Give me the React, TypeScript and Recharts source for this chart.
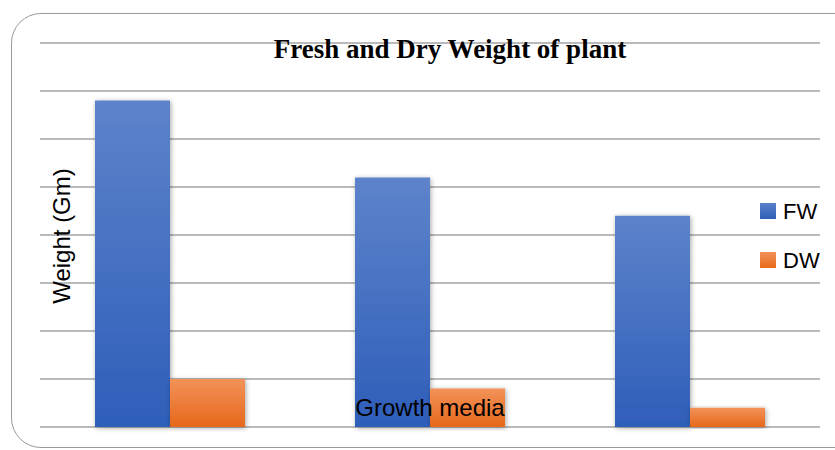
import React from 'react';
import { BarChart, Bar, XAxis, YAxis, CartesianGrid, Legend, Rectangle } from 'recharts';

const categories = ['Medium 1', 'Medium 2', 'Medium 3'];
const fwValues = [6.8, 5.2, 4.4];
const dwValues = [1.0, 0.8, 0.4];
const yTicks = [0, 1, 2, 3, 4, 5, 6, 7, 8];
const seriesNames = ['FW', 'DW'];

const data = categories.map((c, i) => ({ name: c, fw: fwValues[i], dw: dwValues[i] }));

const SANS = '"Liberation Sans", Arial, sans-serif';

const ShadowBar = (props: any) => <Rectangle {...props} filter="url(#barShadow)" />;

const renderLegend = (props: any) => {
  const payload = (props.payload || []).slice();
  payload.sort((a: any, b: any) => seriesNames.indexOf(a.value) - seriesNames.indexOf(b.value));
  return (
    <svg width={80} height={80} style={{ display: 'block' }}>
      <defs>
        <linearGradient id="legFW" x1="0" y1="0" x2="0" y2="1">
          <stop offset="0%" stopColor="#5B80CA" />
          <stop offset="100%" stopColor="#2F5FB9" />
        </linearGradient>
        <linearGradient id="legDW" x1="0" y1="0" x2="0" y2="1">
          <stop offset="0%" stopColor="#F29259" />
          <stop offset="100%" stopColor="#E7691B" />
        </linearGradient>
      </defs>
      {payload.map((p: any, i: number) => (
        <g key={p.value} transform={`translate(0, ${i * 49})`}>
          <rect x={5} y={8} width={16} height={16} fill={p.value === 'FW' ? 'url(#legFW)' : 'url(#legDW)'} />
          <text x={28} y={24} fontFamily={SANS} fontSize={22} fill="#000">{p.value}</text>
        </g>
      ))}
    </svg>
  );
};

const NoTick = () => <g />;

export default function App() {
  return (
    <div style={{ position: 'absolute', left: 0, top: 0, width: 835, height: 450, overflow: 'hidden', background: '#fff' }}>
      <div
        style={{
          position: 'absolute',
          left: 11,
          top: 13,
          width: 860,
          height: 435,
          border: '1.5px solid #9a9a9a',
          borderRadius: 30,
          boxSizing: 'border-box',
        }}
      />
      <div style={{ position: 'absolute', left: 0, top: 0 }}>
        <BarChart
          width={835}
          height={450}
          data={data}
          margin={{ top: 43, left: 40, right: 15, bottom: 23 }}
          barGap={0}
          barSize={75}
        >
          <defs>
            <linearGradient id="gradFW" x1="0" y1="0" x2="0" y2="1">
              <stop offset="0%" stopColor="#5D83CB" />
              <stop offset="100%" stopColor="#2E5EB9" />
            </linearGradient>
            <linearGradient id="gradDW" x1="0" y1="0" x2="0" y2="1">
              <stop offset="0%" stopColor="#F29259" />
              <stop offset="100%" stopColor="#E6681A" />
            </linearGradient>
            <filter id="barShadow" x="-20%" y="-10%" width="140%" height="120%">
              <feDropShadow dx="1" dy="1" stdDeviation="2.5" floodColor="#000" floodOpacity="0.35" />
            </filter>
          </defs>
          <CartesianGrid vertical={false} stroke="#a3a3a3" strokeWidth={1.5} />
          <XAxis dataKey="name" hide />
          <YAxis
            domain={[0, 8]}
            ticks={yTicks}
            interval={0}
            width={0}
            tick={NoTick}
            axisLine={false}
            tickLine={false}
          />
          <Legend
            layout="vertical"
            align="center"
            verticalAlign="middle"
            wrapperStyle={{ left: 755, top: 195, width: 80 }}
            content={renderLegend}
          />
          <Bar dataKey="fw" name={seriesNames[0]} fill="url(#gradFW)" shape={ShadowBar} isAnimationActive={false} />
          <Bar dataKey="dw" name={seriesNames[1]} fill="url(#gradDW)" shape={ShadowBar} isAnimationActive={false} />
        </BarChart>
      </div>
      <svg width={835} height={450} style={{ position: 'absolute', left: 0, top: 0, pointerEvents: 'none' }}>
        <text
          x={450}
          y={58}
          textAnchor="middle"
          fontFamily='"Liberation Serif", "Times New Roman", serif'
          fontWeight="bold"
          fontSize={27}
          fill="#000"
        >
          Fresh and Dry Weight of plant
        </text>
        <text
          x={70}
          y={236}
          textAnchor="middle"
          transform="rotate(-90, 70, 236)"
          fontFamily={SANS}
          fontSize={24}
          fill="#000"
        >
          Weight (Gm)
        </text>
        <text x={430} y={416} textAnchor="middle" fontFamily={SANS} fontSize={24} fill="#000">
          Growth media
        </text>
      </svg>
    </div>
  );
}
